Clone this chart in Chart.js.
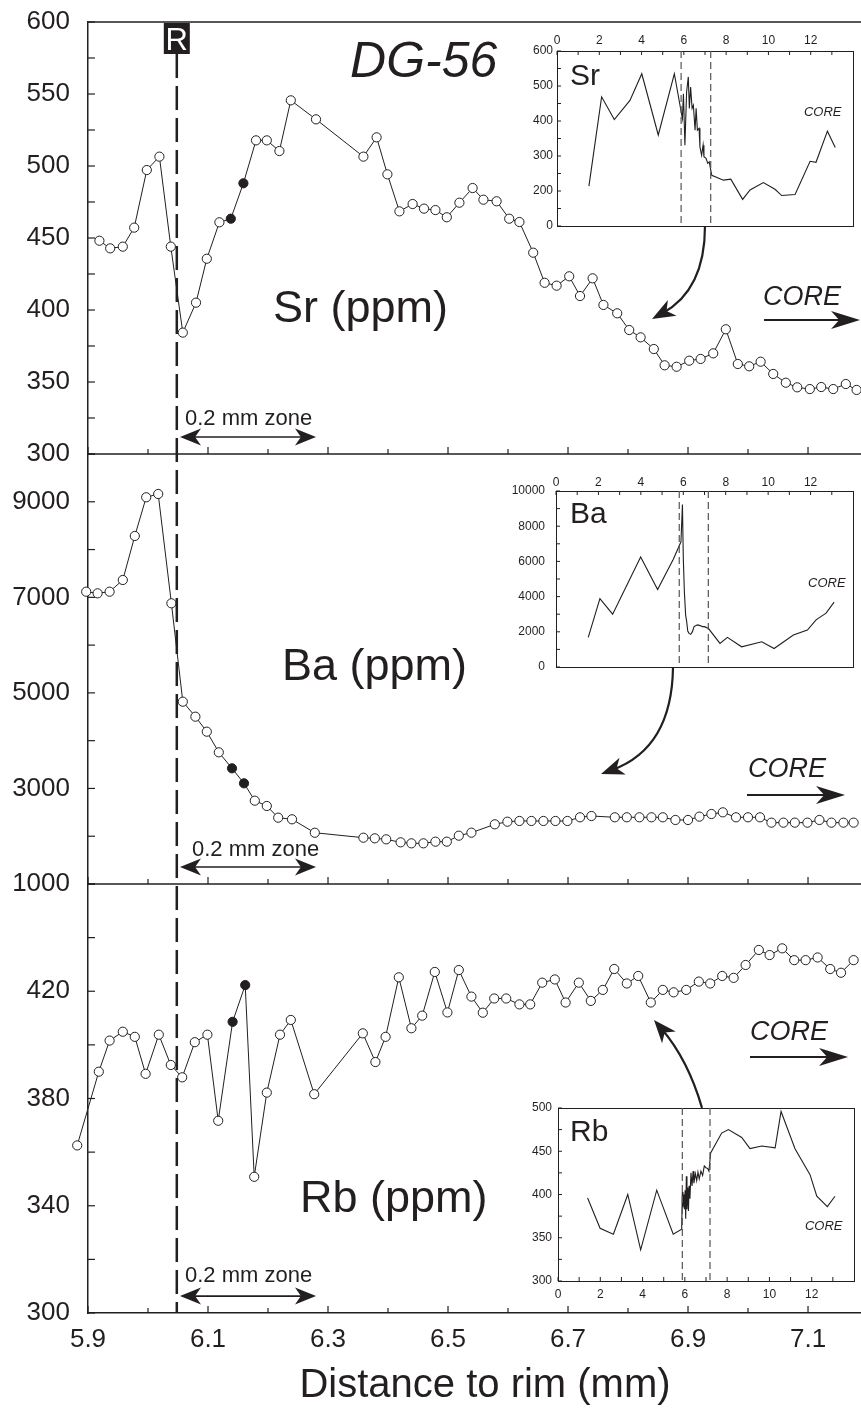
<!DOCTYPE html>
<html><head><meta charset="utf-8">
<script src="https://cdn.jsdelivr.net/npm/chart.js@4/dist/chart.umd.min.js"></script>
<style>
html,body{margin:0;padding:0;background:#fff;overflow:hidden;width:861px;height:1411px}
#wrap{position:relative;width:861px;height:1411px;overflow:hidden;background:#fff}
#main{position:absolute;left:0;top:0}
.inset{position:absolute}
</style></head><body>
<div id="wrap">
<canvas id="main" width="882" height="1411" style="width:882px;height:1411px"></canvas>
<canvas id="insSr" class="inset"></canvas>
<canvas id="insBa" class="inset"></canvas>
<canvas id="insRb" class="inset"></canvas>
</div>
<script>
// ---------------- main profile data (distance to rim, mm) ----------------
const SR_DIST = [5.919,5.937,5.958,5.977,5.998,6.019,6.038,6.058,6.080,6.098,6.119,6.138,6.159,6.180,6.198,6.219,6.238,6.280,
  6.359,6.381,6.399,6.419,6.441,6.460,6.479,6.498,6.519,6.541,6.559,6.581,6.602,6.619,6.642,6.661,6.681,6.702,6.720,6.741,
  6.759,6.782,6.802,6.821,6.843,6.861,6.881,6.902,6.921,6.942,6.963,6.983,7.002,7.021,7.042,7.063,7.082,7.103,7.122,7.142,7.163,7.181];
const SR_PPM = [448.1,442.8,444,457.2,497.2,506.5,444,384.3,405.1,435.6,460.9,463.4,488,517.8,517.8,510.4,545.6,532.4,
  506.5,519.9,494.2,468.5,473.6,470.4,469.4,464.4,474.5,484.7,476.6,475.5,463.4,461.1,439.8,418.9,416.9,423.4,409.7,422,
  403.5,397.7,386.1,381,372.9,361.6,360.6,364.8,366,369.9,386.6,362.5,360.9,364.1,355.6,349.5,346.3,345.1,346.5,345.1,348.6,344.5];
const SR_FILLED = [11,12];

const BA_DIST = [5.897,5.916,5.936,5.958,5.978,5.997,6.017,6.039,6.058,6.079,6.098,6.118,6.140,6.160,6.178,6.198,6.217,6.240,6.278,
  6.359,6.378,6.397,6.421,6.439,6.459,6.479,6.498,6.518,6.539,6.578,6.599,6.619,6.639,6.659,6.679,6.699,6.720,6.739,
  6.778,6.798,6.819,6.839,6.858,6.879,6.900,6.919,6.939,6.958,6.980,7.000,7.020,7.039,7.059,7.078,7.099,7.119,7.139,7.159,7.176];
const BA_PPM = [7118,7084,7118,7363,8284,9094,9163,6875,4816,4502,4188,3756,3421,3107,2744,2633,2388,2354,2073,
  1969,1956,1935,1872,1851,1851,1886,1886,2011,2074,2249,2304,2319,2319,2319,2319,2319,2396,2423,
  2396,2396,2396,2396,2396,2340,2340,2410,2465,2500,2396,2396,2396,2284,2284,2284,2284,2340,2284,2284,2284];
const BA_FILLED = [12,13];

const RB_DIST = [5.882,5.918,5.936,5.958,5.978,5.996,6.018,6.038,6.057,6.078,6.099,6.117,6.141,6.162,6.177,6.198,6.220,6.238,6.277,
  6.358,6.379,6.396,6.418,6.439,6.457,6.478,6.499,6.518,6.539,6.558,6.577,6.597,6.619,6.637,6.657,6.678,6.696,6.718,6.738,
  6.758,6.777,6.798,6.817,6.838,6.858,6.876,6.897,6.918,6.937,6.957,6.976,6.996,7.018,7.036,7.057,7.077,7.096,7.116,7.137,7.155,7.176];
const RB_PPM = [362.5,390,401.6,404.9,403,389.2,403.8,392.5,387.9,401,403.8,371.7,408.6,422.3,350.8,382.2,403.8,409.3,381.6,
  404.3,393.6,403,425.2,406.2,410.9,427.2,412.1,427.9,418,412,417.3,417.3,415.1,415.1,423.2,424.4,415.8,423.2,416.4,
  420.5,428.3,422.9,425.7,415.8,420.5,419.6,420.5,423.6,422.9,425.7,425,429.8,435.4,433.5,436,431.6,431.6,432.6,428.3,426.9,431.6];
const RB_FILLED = [12,13];

// ---------------- main axes ----------------
const X_MIN = 5.9, X_MAX = 7.2233;
const X_TICKS = [5.9,6.0,6.1,6.2,6.3,6.4,6.5,6.6,6.7,6.8,6.9,7.0,7.1,7.2];
const X_TICK_LABELS = ['5.9','6.1','6.3','6.5','6.7','6.9','7.1'];
const SR_TICKS = [300,325,350,375,400,425,450,475,500,525,550,575,600];
const SR_TICK_LABELS = [300,350,400,450,500,550,600];
const BA_TICKS = [1000,2000,3000,4000,5000,6000,7000,8000,9000,10000];
const BA_TICK_LABELS = [1000,3000,5000,7000,9000];
const RB_TICKS = [300,320,340,360,380,400,420,440,460];
const RB_TICK_LABELS = [300,340,380,420];
const R_LINE_X = 6.048;

// ---------------- inset (whole-crystal) profiles ----------------
const INSET_X_TICKS = [0,1,2,3,4,5,6,7,8,9,10,11,12,13];
const INSET_X_LABELS = [0,2,4,6,8,10,12];

const SR_IN_DIST = [1.51,2.11,2.71,3.45,4.01,4.79,5.55,5.93,5.98,6.05,6.13,6.21,6.26,6.32,6.39,6.45,6.53,6.58,6.64,6.72,6.76,6.84,6.91,6.95,7.05,7.13,7.20,7.32,7.87,8.22,8.78,9.13,9.76,10.31,10.63,11.26,11.97,12.25,12.79,13.16];
const SR_IN_PPM  = [214,469,404,459,535,360,535,407,478,331,483,526,436,497,436,445,374,436,374,379,326,302,331,298,293,279,283,245,231,234,176,203,224,205,187,190,285,282,371,324];
const SR_IN_TICKS = [100,150,200,250,300,350,400,450,500,550,600];
const SR_IN_LABEL_VALUES = [100,200,300,400,500,600];
const SR_IN_LABEL_TEXT = ['0','200','300','400','500','600'];

const BA_IN_DIST = [1.52,2.07,2.67,3.99,4.79,5.53,5.89,5.96,6.00,6.05,6.11,6.16,6.21,6.27,6.35,6.43,6.51,6.60,6.68,6.79,6.90,6.99,7.10,7.18,7.73,8.08,8.75,9.70,10.28,11.19,11.85,12.26,12.73,13.11];
const BA_IN_PPM  = [1683,3881,3002,6252,4398,6118,7113,9235,6214,4302,2964,2581,2046,1912,1855,2008,2294,2352,2390,2352,2294,2294,2237,2199,1338,1683,1147,1434,1052,1816,2103,2677,3059,3690];
const BA_IN_TICKS = [0,1000,2000,3000,4000,5000,6000,7000,8000,9000,10000];
const BA_IN_LABEL_VALUES = [0,2000,4000,6000,8000,10000];
const BA_IN_LABEL_TEXT = ['0','2000','4000','6000','8000','10000'];

const RB_IN_DIST = [1.40,1.99,2.62,3.30,3.91,4.67,5.45,5.85,5.88,5.91,5.95,5.98,6.01,6.04,6.07,6.10,6.14,6.17,6.20,6.24,6.29,6.34,6.39,6.43,6.50,6.56,6.62,6.68,6.76,6.84,6.92,7.00,7.08,7.14,7.22,7.74,8.06,8.69,9.08,9.64,10.27,10.55,11.21,11.92,12.24,12.74,13.10];
const RB_IN_PPM  = [396,361,354,400,336,405,354,360,403,385,400,383,405,372,421,383,408,381,410,395,425,410,427,413,424,416,426,418,427,422,433,431,430,427,448,471,475,466,453,456,454,496,453,423,398,386,398];
const RB_IN_TICKS = [300,325,350,375,400,425,450,475,500];
const RB_IN_LABEL_VALUES = [300,350,400,450,500];
const RB_IN_LABEL_TEXT = ['300','350','400','450','500'];

// ---------------- styling / annotations ----------------
const FONT = "'Liberation Sans', Arial, Helvetica, sans-serif";
const INK = '#231f20';
const POINT_R = 4.6;

const ANN = {
  sample: {text:'DG-56', axis:'ySr', x:6.3367, y:561.8},
  titles: [
    {text:'Sr (ppm)', axis:'ySr', x:6.2083, y:391.7},
    {text:'Ba (ppm)', axis:'yBa', x:6.2233, y:5270},
    {text:'Rb (ppm)', axis:'yRb', x:6.2533, y:337.7}
  ],
  zones: [
    {axis:'ySr', tx:6.0617, ty:320.1, ay:311.8},
    {axis:'yBa', tx:6.0733, ty:1586, ay:1356},
    {axis:'yRb', tx:6.0617, ty:311.6, ay:306.3}
  ],
  zoneFrom: 6.0533, zoneTo: 6.28,
  core: [
    {axis:'ySr', tx:7.025, ty:403.5, ay:393.1, x0:7.0267, x1:7.1867},
    {axis:'yBa', tx:7.000, ty:3240, ay:2863, x0:6.9983, x1:7.1617},
    {axis:'yRb', tx:7.0033, ty:401.8, ay:395.5, x0:7.0033, x1:7.1667}
  ],
  curves: [
    {axis:'ySr', p0:[6.9283,458.3], c:[6.9283,413.9], p1:[6.840,393.75]},
    {axis:'yBa', p0:[6.875,5542], c:[6.8733,3846], p1:[6.755,3302]},
    {axis:'yRb', p0:[6.9233,376.5], c:[6.900,394.4], p1:[6.8433,409.3]}
  ]
};

function seg(ctx, x0, y0, x1, y1){ ctx.beginPath(); ctx.moveTo(x0,y0); ctx.lineTo(x1,y1); ctx.stroke(); }
function head(ctx, tx, ty, ang, len, hw){
  ctx.save(); ctx.translate(tx,ty); ctx.rotate(ang);
  ctx.beginPath(); ctx.moveTo(0,0); ctx.lineTo(-len,-hw); ctx.lineTo(-len*0.72,0); ctx.lineTo(-len,hw); ctx.closePath(); ctx.fill();
  ctx.restore();
}

const mainDecor = {
  id:'mainDecor',
  afterDatasetsDraw(chart){
    // markers sitting just outside the plot edge (Chart.js skips those) – drawn at the library-computed element positions
    const {ctx, chartArea:ca} = chart;
    ctx.save();
    chart.data.datasets.forEach((ds, di) => {
      chart.getDatasetMeta(di).data.forEach((el, i) => {
        if (el.x < ca.left - POINT_R - 1) {
          ctx.beginPath(); ctx.arc(el.x, el.y, POINT_R, 0, Math.PI*2);
          ctx.fillStyle = ds.pointBackgroundColor[i]; ctx.fill();
          ctx.lineWidth = 1; ctx.strokeStyle = INK; ctx.stroke();
        }
      });
    });
    ctx.restore();
  },
  afterDraw(chart){
    const {ctx, chartArea:ca, scales} = chart;
    const x = scales.x;
    const px = v => x.getPixelForValue(v);
    ctx.save();
    ctx.strokeStyle = INK; ctx.fillStyle = INK; ctx.lineCap = 'butt';
    ctx.lineWidth = 1.5;
    ['ySr','yBa','yRb'].forEach(id => seg(ctx, ca.left, scales[id].top, ca.right, scales[id].top));
    ctx.lineWidth = 1.2;
    ['ySr','yBa','yRb'].forEach(id => {
      const s = scales[id];
      s.ticks.forEach(t => { const py = s.getPixelForValue(t.value); seg(ctx, ca.left, py, ca.left+7, py); });
      x.ticks.forEach(t => { const p = px(t.value); const L = t.label ? 7 : 5; seg(ctx, p, s.bottom, p, s.bottom-L); });
    });
    const rx = px(R_LINE_X);
    ctx.lineWidth = 2.5; ctx.setLineDash([24,8]);
    seg(ctx, rx, ca.top+32, rx, ca.bottom);
    ctx.setLineDash([]);
    ctx.fillRect(rx-13, ca.top+1, 26, 31);
    ctx.fillStyle = '#fff'; ctx.font = `31px ${FONT}`; ctx.textAlign='center'; ctx.textBaseline='alphabetic';
    ctx.fillText('R', rx, ca.top+28);
    ctx.fillStyle = INK; ctx.textAlign='left';
    const S = ANN.sample;
    ctx.font = `italic 50px ${FONT}`;
    ctx.fillText(S.text, px(S.x), scales[S.axis].getPixelForValue(S.y));
    ctx.font = `45px ${FONT}`;
    ANN.titles.forEach(t => ctx.fillText(t.text, px(t.x), scales[t.axis].getPixelForValue(t.y)));
    ANN.zones.forEach(z => {
      const s = scales[z.axis];
      ctx.font = `22px ${FONT}`;
      ctx.fillText('0.2 mm zone', px(z.tx), s.getPixelForValue(z.ty));
      const y = s.getPixelForValue(z.ay), a = px(ANN.zoneFrom), b = px(ANN.zoneTo);
      ctx.lineWidth = 1.6; seg(ctx, a+10, y, b-10, y);
      head(ctx, a, y, Math.PI, 21, 8.5); head(ctx, b, y, 0, 21, 8.5);
    });
    ANN.core.forEach(c => {
      const s = scales[c.axis];
      ctx.font = `italic 27px ${FONT}`;
      ctx.fillText('CORE', px(c.tx), s.getPixelForValue(c.ty));
      const y = s.getPixelForValue(c.ay), a = px(c.x0), b = px(c.x1);
      ctx.lineWidth = 2; seg(ctx, a, y, b-12, y);
      head(ctx, b, y, 0, 29, 9);
    });
    ANN.curves.forEach(c => {
      const s = scales[c.axis];
      const P0 = [px(c.p0[0]), s.getPixelForValue(c.p0[1])];
      const C  = [px(c.c[0]),  s.getPixelForValue(c.c[1])];
      const P1 = [px(c.p1[0]), s.getPixelForValue(c.p1[1])];
      const ang = Math.atan2(P1[1]-C[1], P1[0]-C[0]);
      const E = [P1[0]-Math.cos(ang)*12, P1[1]-Math.sin(ang)*12];
      ctx.lineWidth = 2.2;
      ctx.beginPath(); ctx.moveTo(P0[0],P0[1]); ctx.quadraticCurveTo(C[0],C[1],E[0],E[1]); ctx.stroke();
      head(ctx, P1[0], P1[1], ang, 23, 9);
    });
    ctx.restore();
  }
};

function pts(xs, ys){ return xs.map((x,i)=>({x, y:ys[i]})); }
function fills(n, filled){ return Array.from({length:n}, (_,i)=> filled.includes(i) ? INK : '#ffffff'); }
function series(xs, ys, filled, axis){
  return { data: pts(xs, ys), yAxisID: axis, xAxisID:'x', borderColor: INK, borderWidth: 1,
    pointRadius: POINT_R, pointHoverRadius: POINT_R, pointBorderWidth: 1, pointBorderColor: INK, pointBackgroundColor: fills(xs.length, filled),
    tension: 0, clip: {left: 16, right: 8, top: 0, bottom: 0} };
}
function fixY(width){ return s => { s.width = width; s.paddingTop = 0; s.paddingBottom = 0; }; }
function yAxis(ticks, labels, min, max, weight, sw){
  return { type:'linear', position:'left', stack:'panels', stackWeight: sw, weight, min, max, bounds:'data',
    grid:{display:false, drawTicks:false}, border:{display:true, color:INK, width:1.5},
    afterBuildTicks: s => { s.ticks = ticks.map(v => ({value:v})); },
    afterFit: fixY(88),
    ticks:{ autoSkip:false, padding:18, color:INK, font:{family:FONT, size:26},
      callback: v => labels.includes(v) ? String(v) : '' } };
}

new Chart(document.getElementById('main'), {
  type:'line',
  data:{ datasets:[
    series(SR_DIST, SR_PPM, SR_FILLED, 'ySr'),
    series(BA_DIST, BA_PPM, BA_FILLED, 'yBa'),
    series(RB_DIST, RB_PPM, RB_FILLED, 'yRb')
  ]},
  options:{
    responsive:false, animation:false, events:[],
    layout:{padding:{top:22, left:0, right:0, bottom:0}, autoPadding:false},
    plugins:{legend:{display:false}, tooltip:{enabled:false}},
    scales:{
      x:{ type:'linear', position:'bottom', min:X_MIN, max:X_MAX, bounds:'data',
        grid:{display:false, drawTicks:false}, border:{display:true, color:INK, width:1.5},
        afterBuildTicks: s => { s.ticks = X_TICKS.map(v => ({value:v})); },
        afterFit: s => { s.height = 98; },
        ticks:{ autoSkip:false, maxRotation:0, padding:11, color:INK, font:{family:FONT, size:26},
          callback: v => X_TICK_LABELS.includes(v.toFixed(1)) ? v.toFixed(1) : '' },
        title:{ display:true, text:'Distance to rim (mm)', color:INK, font:{family:FONT, size:40}, padding:{top:0, bottom:1} } },
      yRb: yAxis(RB_TICKS, RB_TICK_LABELS, 300, 460, 1, 429),
      yBa: yAxis(BA_TICKS, BA_TICK_LABELS, 1000, 10000, 2, 430),
      ySr: yAxis(SR_TICKS, SR_TICK_LABELS, 300, 600, 3, 432)
    }
  },
  plugins:[mainDecor]
});

// ---------------- insets ----------------
function insetDecor(cfg){
  return { id:'insetDecor', afterDraw(chart){
    const {ctx, chartArea:a, scales:{x, y}} = chart;
    ctx.save();
    ctx.strokeStyle = INK; ctx.fillStyle = INK; ctx.lineWidth = 1;
    ctx.strokeRect(Math.round(a.left)+0.5, Math.round(a.top)+0.5, Math.round(a.right-a.left), Math.round(a.bottom-a.top));
    const edge = cfg.xPos === 'top' ? a.top : a.bottom, dir = cfg.xPos === 'top' ? 1 : -1;
    x.ticks.forEach(t => { const p = x.getPixelForValue(t.value); seg(ctx, p, edge, p, edge + dir*4); });
    y.ticks.forEach(t => { const p = y.getPixelForValue(t.value); seg(ctx, a.left, p, a.left+4, p); });
    ctx.strokeStyle = '#555'; ctx.lineWidth = 1.2; ctx.setLineDash([7,4]);
    cfg.dashX.forEach(v => { const p = x.getPixelForValue(v); seg(ctx, p, a.top, p, a.bottom); });
    ctx.setLineDash([]);
    ctx.textAlign = 'left'; ctx.textBaseline = 'alphabetic';
    ctx.font = `30px ${FONT}`;
    ctx.fillText(cfg.name, x.getPixelForValue(cfg.nameAt[0]), y.getPixelForValue(cfg.nameAt[1]));
    ctx.font = `italic 13px ${FONT}`;
    ctx.fillText('CORE', x.getPixelForValue(cfg.coreAt[0]), y.getPixelForValue(cfg.coreAt[1]));
    ctx.restore();
  }};
}
function makeInset(id, cfg){
  const cv = document.getElementById(id);
  cv.width = cfg.w; cv.height = cfg.h;
  Object.assign(cv.style, {left:cfg.left+'px', top:cfg.top+'px', width:cfg.w+'px', height:cfg.h+'px'});
  return new Chart(cv, {
    type:'line',
    data:{datasets:[{data: pts(cfg.xs, cfg.ys), borderColor: INK, borderWidth: 1.1, pointRadius: 0, tension: 0}]},
    options:{
      responsive:false, animation:false, events:[],
      layout:{padding: cfg.padding, autoPadding:false},
      plugins:{legend:{display:false}, tooltip:{enabled:false}},
      scales:{
        x:{ type:'linear', position: cfg.xPos, min:0, max:14, bounds:'data',
          grid:{display:false, drawTicks:false}, border:{display:false},
          afterBuildTicks: s => { s.ticks = INSET_X_TICKS.map(v => ({value:v})); },
          afterFit: s => { s.height = cfg.xH; s.paddingLeft = 0; s.paddingRight = 0; },
          ticks:{ autoSkip:false, maxRotation:0, padding: cfg.xPad, color:INK, font:{family:FONT, size:12},
            callback: v => INSET_X_LABELS.includes(v) ? String(v) : '' } },
        y:{ type:'linear', position:'left', min: cfg.yMin, max: cfg.yMax, bounds:'data',
          grid:{display:false, drawTicks:false}, border:{display:false},
          afterBuildTicks: s => { s.ticks = cfg.yTicks.map(v => ({value:v})); },
          afterFit: fixY(cfg.yW),
          ticks:{ autoSkip:false, padding: cfg.yPad, color:INK, font:{family:FONT, size:12},
            callback: v => { const k = cfg.labVals.indexOf(v); return k >= 0 ? cfg.labText[k] : ''; } } }
      }
    },
    plugins:[insetDecor(cfg)]
  });
}

makeInset('insSr', { left:500, top:25, w:361, h:212, padding:{left:0, top:0, right:8, bottom:11},
  xPos:'top', xH:26, xPad:3, yW:57, yPad:4, yMin:100, yMax:600,
  yTicks: SR_IN_TICKS, labVals: SR_IN_LABEL_VALUES, labText: SR_IN_LABEL_TEXT,
  xs: SR_IN_DIST, ys: SR_IN_PPM, dashX:[5.87, 7.27], name:'Sr', nameAt:[0.61, 503], coreAt:[11.68, 414] });

makeInset('insBa', { left:500, top:465, w:361, h:212, padding:{left:0, top:0, right:8, bottom:10},
  xPos:'top', xH:26, xPad:1, yW:56, yPad:11, yMin:0, yMax:10000,
  yTicks: BA_IN_TICKS, labVals: BA_IN_LABEL_VALUES, labText: BA_IN_LABEL_TEXT,
  xs: BA_IN_DIST, ys: BA_IN_PPM, dashX:[5.81, 7.18], name:'Ba', nameAt:[0.66, 8182], coreAt:[11.88, 4545] });

makeInset('insRb', { left:500, top:1090, w:361, h:220, padding:{left:0, top:18, right:7, bottom:0},
  xPos:'bottom', xH:29, xPad:6, yW:58, yPad:6, yMin:300, yMax:500,
  yTicks: RB_IN_TICKS, labVals: RB_IN_LABEL_VALUES, labText: RB_IN_LABEL_TEXT,
  xs: RB_IN_DIST, ys: RB_IN_PPM, dashX:[5.88, 7.19], name:'Rb', nameAt:[0.57, 462], coreAt:[11.68, 359] });
</script>
</body></html>
